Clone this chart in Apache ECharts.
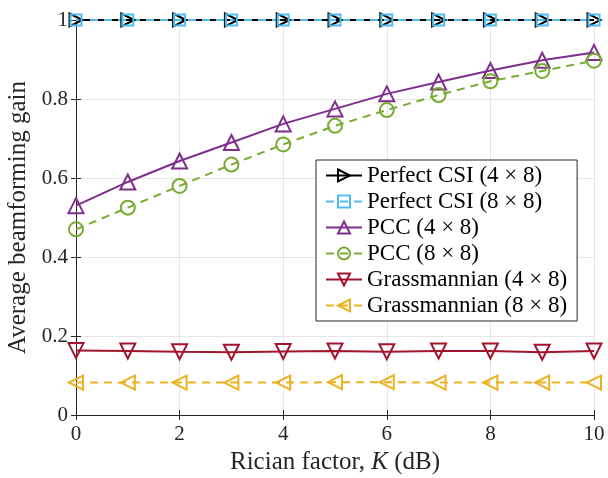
<!DOCTYPE html>
<html>
<head>
<meta charset="utf-8">
<script src="https://cdn.jsdelivr.net/npm/echarts@6/dist/echarts.min.js"></script>
<style>
  html, body { margin: 0; padding: 0; background: #fff; }
  #chart { width: 608px; height: 478px; }
</style>
</head>
<body>
<div id="chart"></div>
<script>
var kValues = [0, 1, 2, 3, 4, 5, 6, 7, 8, 9, 10];

var perfect48 = [1, 1, 1, 1, 1, 1, 1, 1, 1, 1, 1];
var perfect88 = [1, 1, 1, 1, 1, 1, 1, 1, 1, 1, 1];
var pcc48 = [0.53, 0.59, 0.643, 0.69, 0.737, 0.775, 0.813, 0.843, 0.872, 0.898, 0.918];
var pcc88 = [0.47, 0.525, 0.58, 0.634, 0.685, 0.732, 0.772, 0.81, 0.845, 0.871, 0.897];
var grass48 = [0.163, 0.162, 0.16, 0.159, 0.161, 0.162, 0.16, 0.162, 0.162, 0.159, 0.162];
var grass88 = [0.082, 0.082, 0.082, 0.082, 0.082, 0.083, 0.083, 0.082, 0.082, 0.082, 0.082];

var seriesNames = [
  'Perfect CSI (4 × 8)',
  'Perfect CSI (8 × 8)',
  'PCC (4 × 8)',
  'PCC (8 × 8)',
  'Grassmannian (4 × 8)',
  'Grassmannian (8 × 8)'
];

var FONT = 'Liberation Serif';

var chart = echarts.init(document.getElementById('chart'), null, { renderer: 'canvas' });

function pairs(arr) {
  return arr.map(function (v, i) { return [kValues[i], v]; });
}

// marker shapes
var triRight = 'path://M0,0 L10,5 L0,10 Z';
var triLeft = 'path://M10,0 L0,5 L10,10 Z';
var triUp = 'path://M5,0 L10,9 L0,9 Z';
var triDown = 'path://M0,0 L10,0 L5,9 Z';
var square = 'path://M0,0 L10,0 L10,10 L0,10 Z';

function makeSeries(name, data, color, symbol, size, dashed) {
  return {
    name: name,
    type: 'line',
    data: pairs(data),
    symbol: symbol,
    symbolSize: size,
    showAllSymbol: true,
    lineStyle: { color: color, width: 2, type: dashed ? [8, 6] : 'solid' },
    itemStyle: { color: 'rgba(255,255,255,0)', borderColor: color, borderWidth: 2 },
    emphasis: { disabled: true },
    animation: false,
    z: 3
  };
}

var axisLineStyle = { color: '#262626', width: 1 };

var option = {
  backgroundColor: '#fff',
  animation: false,
  grid: { left: 76, right: 14, top: 20, bottom: 63, outerBoundsMode: 'none', containLabel: false },
  legend: {
    orient: 'vertical',
    left: 316,
    top: 160,
    backgroundColor: '#fff',
    borderColor: '#262626',
    borderWidth: 1,
    padding: [4, 10, 4, 9],
    itemGap: 3,
    itemWidth: 36,
    itemHeight: 15,
    textStyle: { fontFamily: FONT, fontSize: 23, color: '#000' },
    data: seriesNames
  },
  xAxis: [{
    type: 'value',
    min: 0, max: 10, interval: 2,
    name: '{n|Rician factor, }{k|K}{n| (dB)}',
    nameLocation: 'middle',
    nameGap: 35,
    nameTextStyle: {
      rich: {
        n: { fontFamily: FONT, fontSize: 25, color: '#262626' },
        k: { fontFamily: FONT, fontSize: 25, fontStyle: 'italic', color: '#262626' }
      }
    },
    axisLine: { show: true, lineStyle: axisLineStyle },
    axisTick: { show: true, inside: true, length: 5, lineStyle: axisLineStyle },
    axisLabel: { fontFamily: FONT, fontSize: 21, color: '#262626', margin: 9 },
    splitLine: { show: true, lineStyle: { color: '#e6e6e6', width: 1 } }
  }, {
    type: 'value',
    position: 'top',
    min: 0, max: 10, interval: 2,
    axisLine: { show: true, lineStyle: axisLineStyle },
    axisTick: { show: true, inside: true, length: 5, lineStyle: axisLineStyle },
    axisLabel: { show: false },
    splitLine: { show: false }
  }],
  yAxis: [{
    type: 'value',
    min: 0, max: 1, interval: 0.2,
    name: 'Average beamforming gain',
    nameLocation: 'middle',
    nameGap: 44,
    nameTextStyle: { fontFamily: FONT, fontSize: 25, color: '#262626' },
    axisLine: { show: true, lineStyle: axisLineStyle },
    axisTick: { show: true, inside: true, length: 5, lineStyle: axisLineStyle },
    axisLabel: {
      fontFamily: FONT, fontSize: 21, color: '#262626', margin: 8,
      formatter: function (v) { return String(Math.round(v * 10) / 10); }
    },
    splitLine: { show: true, lineStyle: { color: '#e6e6e6', width: 1 } }
  }, {
    type: 'value',
    position: 'right',
    min: 0, max: 1, interval: 0.2,
    axisLine: { show: true, lineStyle: axisLineStyle },
    axisTick: { show: true, inside: true, length: 5, lineStyle: axisLineStyle },
    axisLabel: { show: false },
    splitLine: { show: false }
  }],
  series: [
    makeSeries(seriesNames[0], perfect48, '#000000', triRight, 13, false),
    makeSeries(seriesNames[1], perfect88, '#4DBEEE', square, 11, true),
    makeSeries(seriesNames[2], pcc48, '#7E2F8E', triUp, 15, false),
    makeSeries(seriesNames[3], pcc88, '#77AC30', 'circle', 14, true),
    makeSeries(seriesNames[4], grass48, '#A2142F', triDown, 15, false),
    makeSeries(seriesNames[5], grass88, '#EDB120', triLeft, 14, true)
  ]
};

chart.setOption(option);
</script>
</body>
</html>
